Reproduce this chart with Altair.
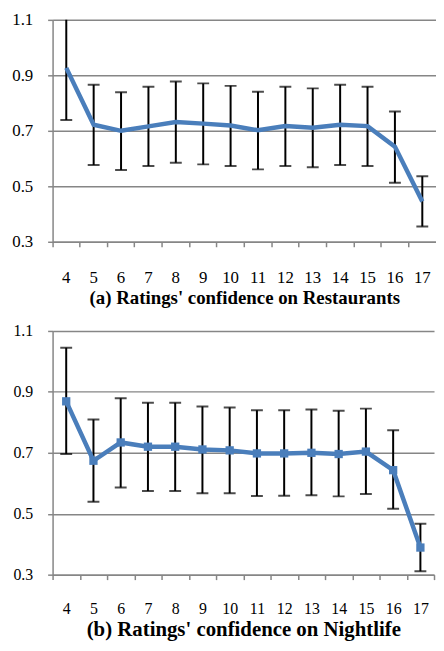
import altair as alt
import pandas as pd

cats = [4, 5, 6, 7, 8, 9, 10, 11, 12, 13, 14, 15, 16, 17]

rest_mean = [0.927, 0.722, 0.700, 0.716, 0.732, 0.726, 0.719, 0.702, 0.717, 0.711, 0.722, 0.717, 0.643, 0.445]
rest_high = [1.115, 0.866, 0.839, 0.859, 0.878, 0.871, 0.862, 0.841, 0.859, 0.853, 0.866, 0.859, 0.770, 0.536]
rest_low = [0.739, 0.577, 0.559, 0.573, 0.585, 0.579, 0.573, 0.561, 0.573, 0.569, 0.577, 0.573, 0.513, 0.355]

night_mean = [0.869, 0.674, 0.734, 0.720, 0.720, 0.711, 0.708, 0.698, 0.698, 0.700, 0.696, 0.704, 0.643, 0.389]
night_high = [1.045, 0.809, 0.879, 0.864, 0.864, 0.852, 0.849, 0.840, 0.840, 0.842, 0.838, 0.845, 0.774, 0.467]
night_low = [0.696, 0.539, 0.586, 0.575, 0.575, 0.567, 0.567, 0.558, 0.559, 0.561, 0.557, 0.565, 0.516, 0.311]

y_ticks = [0.3, 0.5, 0.7, 0.9, 1.1]

title_a = "(a) Ratings' confidence on Restaurants"
title_b = "(b) Ratings' confidence on Nightlife"

FONT = "'Liberation Serif', 'Times New Roman', 'DejaVu Serif', serif"
GRAY = "#868686"
BLUE = "#4a7ebb"


def panel(mean, low, high, title, width, height, label_size, title_size,
          label_pad, title_pad, extent, markers, x_range=None):
    df = pd.DataFrame({"cat": cats, "mean": mean, "low": low, "high": high})
    if x_range is None:
        xsc = alt.Scale(paddingInner=0, paddingOuter=0)
        xax = alt.Axis(title=title, labelAngle=0, tickBand="extent", tickSize=5,
                       labelFontSize=label_size, labelPadding=label_pad,
                       titleFontSize=title_size, titlePadding=title_pad,
                       grid=False)
    else:
        xsc = alt.Scale(paddingInner=0, paddingOuter=0, range=[0, x_range])
        xax = alt.Axis(title=title, labelAngle=0, bandPosition=0, tickSize=5,
                       labelFontSize=label_size, labelPadding=label_pad,
                       titleFontSize=title_size, titlePadding=title_pad,
                       grid=False)
    x = alt.X("cat:O", scale=xsc, axis=xax)
    ysc = alt.Scale(domain=[0.3, 1.1], nice=False, zero=False)
    yax = alt.Axis(title=None, values=y_ticks, format=".1f", grid=True,
                   tickSize=5, labelFontSize=label_size, labelPadding=15,
                   minExtent=extent, maxExtent=extent)
    base = alt.Chart(df)
    rules = base.mark_rule(color="black", strokeWidth=2, clip=True).encode(
        x=x, y=alt.Y("low:Q", scale=ysc, axis=yax), y2="high:Q")
    cap_lo = base.mark_tick(color="black", thickness=2, size=12, clip=True).encode(
        x=x, y=alt.Y("low:Q", scale=ysc, axis=yax))
    cap_hi = base.mark_tick(color="black", thickness=2, size=12, clip=True).encode(
        x=x, y=alt.Y("high:Q", scale=ysc, axis=yax))
    line = base.mark_line(color=BLUE, strokeWidth=4.5).encode(
        x=x, y=alt.Y("mean:Q", scale=ysc, axis=yax))
    layers = [rules, cap_lo, cap_hi, line]
    if markers:
        pts = base.mark_square(color=BLUE, size=70, opacity=1).encode(
            x=x, y=alt.Y("mean:Q", scale=ysc, axis=yax))
        layers.append(pts)
    return alt.layer(*layers).properties(width=width, height=height)


top = panel(rest_mean, rest_low, rest_high, title_a, 383, 224, 17, 19, 23, 3, 45,
            False, x_range=387)
bottom = panel(night_mean, night_low, night_high, title_b, 385, 246, 16, 21, 21, 2, 43, True)

chart = alt.vconcat(top, bottom, spacing=16).properties(padding=0).configure_view(
    stroke=None
).configure_axis(
    domainColor=GRAY, gridColor=GRAY, tickColor=GRAY,
    domainWidth=1.5, gridWidth=1.5, tickWidth=1.5,
    labelFont=FONT, labelColor="black",
    titleFont=FONT, titleFontWeight="bold", titleColor="black"
)

chart.save("out.html", embed_options={"renderer": "svg", "actions": False})
